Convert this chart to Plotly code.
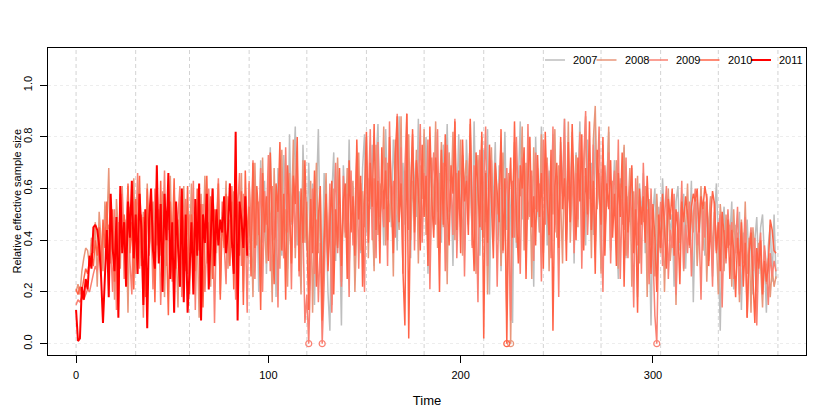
import plotly.graph_objects as go

# relative effective sample size, one value per day of year
start_2007 = 90
ess_2007 = [
    0.52, 0.31, 0.66, 0.44, 0.58, 0.20, 0.71, 0.39, 0.63, 0.27, 0.55, 0.76, 0.42, 0.60, 0.18, 0.68, 0.49, 0.34, 0.73, 0.57,
    0.29, 0.81, 0.46, 0.65, 0.84, 0.38, 0.59, 0.23, 0.77, 0.51, 0.36, 0.70, 0.44, 0.62, 0.15, 0.57, 0.83, 0.40, 0.28, 0.66,
    0.49, 0.20, 0.05, 0.58, 0.74, 0.32, 0.63, 0.45, 0.07, 0.69, 0.53, 0.38, 0.79, 0.47, 0.61, 0.26, 0.72, 0.55, 0.35, 0.68,
    0.81, 0.43, 0.64, 0.52, 0.77, 0.30, 0.70, 0.85, 0.48, 0.59, 0.38, 0.83, 0.56, 0.67, 0.45, 0.79, 0.62, 0.36, 0.88, 0.53,
    0.70, 0.46, 0.84, 0.58, 0.33, 0.76, 0.63, 0.49, 0.87, 0.41, 0.69, 0.55, 0.80, 0.27, 0.73, 0.60, 0.44, 0.82, 0.51, 0.66,
    0.39, 0.77, 0.57, 0.85, 0.48, 0.62, 0.30, 0.74, 0.53, 0.81, 0.45, 0.68, 0.36, 0.79, 0.58, 0.64, 0.42, 0.86, 0.50, 0.71,
    0.34, 0.60, 0.75, 0.47, 0.83, 0.19, 0.66, 0.55, 0.78, 0.40, 0.69, 0.28, 0.57, 0.82, 0.44, 0.63, 0.51, 0.08, 0.73, 0.37,
    0.61, 0.86, 0.48, 0.70, 0.32, 0.77, 0.56, 0.65, 0.22, 0.80, 0.52, 0.43, 0.84, 0.59, 0.71, 0.38, 0.67, 0.54, 0.81, 0.46,
    0.63, 0.35, 0.78, 0.57, 0.87, 0.44, 0.69, 0.50, 0.82, 0.31, 0.74, 0.60, 0.86, 0.47, 0.65, 0.38, 0.79, 0.56, 0.70, 0.42,
    0.84, 0.53, 0.66, 0.29, 0.77, 0.48, 0.61, 0.82, 0.37, 0.58, 0.71, 0.45, 0.25, 0.64, 0.52, 0.76, 0.33, 0.57, 0.47, 0.68,
    0.40, 0.55, 0.18, 0.62, 0.49, 0.66, 0.35, 0.58, 0.44, 0.07, 0.51, 0.60, 0.27, 0.53, 0.39, 0.64, 0.46, 0.31, 0.57, 0.42,
    0.50, 0.22, 0.55, 0.61, 0.36, 0.47, 0.58, 0.29, 0.52, 0.43, 0.63, 0.16, 0.49, 0.56, 0.38, 0.60, 0.45, 0.34, 0.53, 0.41,
    0.57, 0.26, 0.48, 0.62, 0.39, 0.05, 0.44, 0.53, 0.32, 0.50, 0.41, 0.55, 0.21, 0.46, 0.37, 0.51, 0.13, 0.43, 0.35, 0.48,
    0.30, 0.44, 0.19, 0.40, 0.49, 0.27, 0.45, 0.50, 0.33, 0.12, 0.38, 0.46, 0.24, 0.50, 0.25,
]

ess_2008 = [
    0.20, 0.23, 0.19, 0.28, 0.33, 0.37, 0.36, 0.30, 0.41, 0.35, 0.47, 0.22, 0.51, 0.39, 0.28, 0.55, 0.44, 0.68, 0.31, 0.49,
    0.17, 0.56, 0.42, 0.29, 0.61, 0.35, 0.48, 0.12, 0.53, 0.40, 0.64, 0.27, 0.46, 0.58, 0.33, 0.51, 0.20, 0.62, 0.38, 0.45,
    0.55, 0.26, 0.63, 0.41, 0.34, 0.59, 0.18, 0.50, 0.44, 0.65, 0.30, 0.52, 0.37, 0.14, 0.57, 0.46, 0.61, 0.28, 0.49, 0.36,
    0.62, 0.24, 0.53, 0.43, 0.10, 0.58, 0.39, 0.65, 0.31, 0.47, 0.22, 0.60, 0.45, 0.35, 0.56, 0.19, 0.51, 0.42, 0.63, 0.29,
    0.48, 0.37, 0.59, 0.25, 0.54, 0.41, 0.66, 0.20, 0.57, 0.33, 0.62, 0.47, 0.18, 0.70, 0.38, 0.55, 0.26, 0.72, 0.44, 0.31,
    0.64, 0.50, 0.16, 0.68, 0.41, 0.57, 0.29, 0.75, 0.36, 0.52, 0.22, 0.66, 0.47, 0.79, 0.33, 0.58, 0.43, 0.19, 0.71, 0.39,
    0.55, 0.27, 0.63, 0.12, 0.49, 0.70, 0.35, 0.58, 0.21, 0.44, 0.66, 0.31, 0.53, 0.15, 0.60, 0.38, 0.72, 0.46, 0.24, 0.57,
    0.41, 0.68, 0.30, 0.52, 0.63, 0.20, 0.47, 0.74, 0.36, 0.59, 0.45, 0.80, 0.33, 0.66, 0.51, 0.28, 0.77, 0.42, 0.62, 0.55,
    0.84, 0.38, 0.70, 0.47, 0.61, 0.26, 0.79, 0.53, 0.44, 0.88, 0.35, 0.67, 0.58, 0.81, 0.40, 0.63, 0.49, 0.75, 0.31, 0.69,
    0.56, 0.83, 0.42, 0.64, 0.29, 0.72, 0.50, 0.86, 0.37, 0.61, 0.78, 0.45, 0.68, 0.23, 0.74, 0.55, 0.82, 0.40, 0.66, 0.52,
    0.79, 0.34, 0.63, 0.71, 0.46, 0.85, 0.38, 0.60, 0.27, 0.73, 0.54, 0.80, 0.41, 0.67, 0.19, 0.58, 0.76, 0.44, 0.69, 0.50,
    0.62, 0.30, 0.74, 0.47, 0.11, 0.66, 0.00, 0.53, 0.78, 0.39, 0.64, 0.57, 0.84, 0.36, 0.70, 0.48, 0.61, 0.25, 0.76, 0.52,
    0.68, 0.43, 0.81, 0.35, 0.59, 0.72, 0.28, 0.64, 0.50, 0.83, 0.41, 0.69, 0.56, 0.31, 0.77, 0.47, 0.86, 0.39, 0.63, 0.54,
    0.73, 0.45, 0.82, 0.37, 0.60, 0.88, 0.49, 0.70, 0.33, 0.79, 0.92, 0.52, 0.66, 0.27, 0.75, 0.43, 0.58, 0.84, 0.36, 0.63,
    0.50, 0.71, 0.29, 0.62, 0.46, 0.77, 0.34, 0.55, 0.68, 0.22, 0.59, 0.42, 0.65, 0.31, 0.53, 0.47, 0.61, 0.18, 0.56, 0.38,
    0.49, 0.26, 0.58, 0.41, 0.35, 0.54, 0.20, 0.47, 0.60, 0.32, 0.44, 0.53, 0.15, 0.50, 0.39, 0.57, 0.28, 0.46, 0.62, 0.37,
    0.52, 0.43, 0.58, 0.30, 0.49, 0.61, 0.36, 0.55, 0.24, 0.47, 0.57, 0.33, 0.51, 0.40, 0.19, 0.54, 0.44, 0.28, 0.50, 0.37,
    0.46, 0.22, 0.52, 0.35, 0.43, 0.16, 0.48, 0.31, 0.55, 0.27, 0.41, 0.12, 0.45, 0.34, 0.20, 0.39, 0.30, 0.14, 0.36, 0.23,
    0.33, 0.18, 0.29, 0.22, 0.26,
]

ess_2009 = [
    0.15, 0.17, 0.16, 0.18, 0.17, 0.19, 0.21, 0.20, 0.24, 0.27, 0.30, 0.28, 0.36, 0.33, 0.42, 0.45, 0.44, 0.46, 0.38, 0.20,
    0.52, 0.13, 0.47, 0.36, 0.58, 0.25, 0.44, 0.61, 0.32, 0.19, 0.55, 0.40, 0.66, 0.29, 0.50, 0.10, 0.43, 0.57, 0.34, 0.48,
    0.21, 0.60, 0.38, 0.52, 0.15, 0.45, 0.67, 0.30, 0.54, 0.42, 0.24, 0.59, 0.35, 0.49, 0.61, 0.18, 0.44, 0.56, 0.27, 0.50,
    0.39, 0.63, 0.13, 0.47, 0.58, 0.32, 0.54, 0.20, 0.43, 0.60, 0.36, 0.51, 0.08, 0.46, 0.64, 0.29, 0.55, 0.41, 0.23, 0.57,
    0.35, 0.61, 0.44, 0.17, 0.52, 0.66, 0.30, 0.58, 0.47, 0.12, 0.63, 0.38, 0.71, 0.25, 0.55, 0.42, 0.68, 0.20, 0.59, 0.46,
    0.73, 0.28, 0.61, 0.40, 0.55, 0.14, 0.67, 0.49, 0.33, 0.76, 0.43, 0.58, 0.21, 0.64, 0.37, 0.70, 0.26, 0.52, 0.45, 0.08,
    0.19, 0.00, 0.34, 0.60, 0.27, 0.48, 0.16, 0.39, 0.00, 0.23, 0.55, 0.31, 0.62, 0.12, 0.46, 0.70, 0.35, 0.53, 0.22, 0.65,
    0.43, 0.58, 0.18, 0.67, 0.38, 0.51, 0.74, 0.29, 0.62, 0.47, 0.20, 0.71, 0.55, 0.83, 0.40, 0.64, 0.33, 0.78, 0.49, 0.59,
    0.45, 0.72, 0.30, 0.86, 0.54, 0.63, 0.41, 0.89, 0.50, 0.76, 0.27, 0.68, 0.89, 0.44, 0.61, 0.81, 0.36, 0.70, 0.57, 0.85,
    0.39, 0.66, 0.53, 0.79, 0.21, 0.62, 0.74, 0.46, 0.83, 0.35, 0.58, 0.70, 0.28, 0.77, 0.51, 0.64, 0.42, 0.87, 0.33, 0.60,
    0.48, 0.73, 0.26, 0.65, 0.56, 0.81, 0.37, 0.69, 0.52, 0.16, 0.75, 0.44, 0.62, 0.84, 0.30, 0.57, 0.71, 0.40, 0.66, 0.22,
    0.59, 0.78, 0.35, 0.52, 0.68, 0.45, 0.09, 0.63, 0.41, 0.80, 0.55, 0.27, 0.72, 0.60, 0.38, 0.85, 0.49, 0.67, 0.32, 0.74,
    0.51, 0.62, 0.24, 0.79, 0.46, 0.70, 0.57, 0.33, 0.84, 0.43, 0.65, 0.18, 0.73, 0.58, 0.87, 0.40, 0.61, 0.52, 0.76, 0.35,
    0.66, 0.48, 0.81, 0.29, 0.71, 0.90, 0.42, 0.63, 0.55, 0.77, 0.37, 0.60, 0.84, 0.46, 0.20, 0.69, 0.53, 0.74, 0.31, 0.58,
    0.67, 0.40, 0.79, 0.25, 0.56, 0.44, 0.72, 0.33, 0.61, 0.49, 0.14, 0.64, 0.38, 0.57, 0.27, 0.70, 0.45, 0.52, 0.23, 0.60,
    0.36, 0.11, 0.00, 0.42, 0.55, 0.30, 0.48, 0.61, 0.25, 0.44, 0.37, 0.58, 0.19, 0.51, 0.40, 0.63, 0.29, 0.46, 0.35, 0.55,
    0.26, 0.49, 0.60, 0.38, 0.45, 0.17, 0.53, 0.41, 0.58, 0.32, 0.47, 0.22, 0.55, 0.36, 0.43, 0.50, 0.14, 0.44, 0.31, 0.52,
    0.38, 0.47, 0.25, 0.42, 0.53, 0.19, 0.40, 0.33, 0.49, 0.10, 0.36, 0.45, 0.28, 0.41, 0.07, 0.34, 0.43, 0.21, 0.38, 0.30,
    0.15, 0.35, 0.26, 0.32, 0.28,
]

ess_2010 = [
    0.21, 0.19, 0.22, 0.20, 0.25, 0.29, 0.27, 0.32, 0.35, 0.30, 0.40, 0.34, 0.45, 0.26, 0.48, 0.37, 0.55, 0.31, 0.46, 0.52,
    0.24, 0.44, 0.13, 0.58, 0.39, 0.50, 0.28, 0.62, 0.35, 0.47, 0.21, 0.56, 0.41, 0.65, 0.30, 0.49, 0.18, 0.60, 0.37, 0.53,
    0.45, 0.16, 0.57, 0.33, 0.63, 0.26, 0.51, 0.40, 0.11, 0.55, 0.38, 0.64, 0.29, 0.48, 0.22, 0.59, 0.43, 0.35, 0.61, 0.19,
    0.50, 0.42, 0.28, 0.60, 0.36, 0.54, 0.14, 0.47, 0.65, 0.32, 0.57, 0.25, 0.52, 0.40, 0.62, 0.17, 0.49, 0.37, 0.58, 0.44,
    0.30, 0.55, 0.21, 0.63, 0.46, 0.34, 0.59, 0.15, 0.67, 0.41, 0.53, 0.26, 0.70, 0.37, 0.61, 0.48, 0.13, 0.66, 0.43, 0.57,
    0.32, 0.74, 0.45, 0.23, 0.62, 0.51, 0.78, 0.36, 0.58, 0.17, 0.69, 0.47, 0.31, 0.65, 0.54, 0.80, 0.28, 0.60, 0.39, 0.71,
    0.44, 0.13, 0.56, 0.35, 0.67, 0.22, 0.49, 0.61, 0.09, 0.40, 0.58, 0.28, 0.46, 0.63, 0.19, 0.52, 0.37, 0.68, 0.30, 0.55,
    0.62, 0.25, 0.71, 0.43, 0.57, 0.34, 0.79, 0.48, 0.65, 0.22, 0.58, 0.82, 0.39, 0.70, 0.53, 0.85, 0.44, 0.63, 0.31, 0.76,
    0.52, 0.67, 0.40, 0.80, 0.58, 0.35, 0.73, 0.88, 0.47, 0.62, 0.28, 0.07, 0.89, 0.02, 0.55, 0.83, 0.43, 0.71, 0.60, 0.36,
    0.77, 0.49, 0.65, 0.30, 0.84, 0.56, 0.41, 0.72, 0.62, 0.20, 0.75, 0.46, 0.81, 0.53, 0.38, 0.69, 0.58, 0.86, 0.44, 0.67,
    0.35, 0.79, 0.55, 0.63, 0.42, 0.87, 0.50, 0.28, 0.74, 0.60, 0.45, 0.82, 0.02, 0.66, 0.39, 0.77, 0.53, 0.33, 0.70, 0.58,
    0.47, 0.83, 0.36, 0.64, 0.00, 0.55, 0.72, 0.41, 0.86, 0.50, 0.31, 0.69, 0.60, 0.76, 0.25, 0.63, 0.80, 0.45, 0.57, 0.38,
    0.73, 0.49, 0.66, 0.29, 0.82, 0.56, 0.42, 0.75, 0.05, 0.61, 0.70, 0.37, 0.80, 0.52, 0.64, 0.32, 0.78, 0.47, 0.85, 0.58,
    0.40, 0.72, 0.55, 0.81, 0.36, 0.68, 0.50, 0.86, 0.44, 0.63, 0.27, 0.75, 0.57, 0.46, 0.80, 0.34, 0.62, 0.52, 0.71, 0.41,
    0.58, 0.30, 0.66, 0.49, 0.74, 0.22, 0.61, 0.43, 0.55, 0.69, 0.35, 0.52, 0.12, 0.60, 0.46, 0.57, 0.39, 0.65, 0.48, 0.27,
    0.54, 0.41, 0.20, 0.50, 0.37, 0.58, 0.45, 0.29, 0.56, 0.48, 0.60, 0.34, 0.52, 0.44, 0.23, 0.55, 0.47, 0.57, 0.50, 0.38,
    0.53, 0.58, 0.55, 0.60, 0.43, 0.57, 0.52, 0.61, 0.56, 0.30, 0.49, 0.59, 0.54, 0.35, 0.47, 0.28, 0.51, 0.42, 0.33, 0.48,
    0.25, 0.44, 0.36, 0.18, 0.41, 0.30, 0.47, 0.22, 0.39, 0.10, 0.35, 0.43, 0.26, 0.08, 0.37, 0.29, 0.40, 0.19, 0.32, 0.24,
    0.30, 0.48, 0.44, 0.36, 0.35,
]

ess_2011 = [
    0.13, 0.01, 0.02, 0.22, 0.17, 0.25, 0.21, 0.34, 0.29, 0.45, 0.46, 0.44, 0.38, 0.26, 0.08, 0.30, 0.44, 0.18, 0.58, 0.37,
    0.28, 0.49, 0.10, 0.61, 0.35, 0.47, 0.22, 0.55, 0.41, 0.63, 0.33, 0.50, 0.27, 0.58, 0.44, 0.15, 0.52, 0.06, 0.48, 0.60,
    0.36, 0.29, 0.69, 0.31, 0.54, 0.20, 0.58, 0.40, 0.66, 0.25, 0.47, 0.12, 0.55, 0.38, 0.22, 0.60, 0.16, 0.50, 0.12, 0.28,
    0.47, 0.19, 0.56, 0.34, 0.62, 0.09, 0.50, 0.39, 0.58, 0.21, 0.45, 0.60, 0.30, 0.52, 0.38, 0.48, 0.43, 0.57, 0.35, 0.44,
    0.62, 0.40, 0.27, 0.82, 0.09, 0.55, 0.48, 0.37, 0.57, 0.34,
]

years = ["2007", "2008", "2009", "2010", "2011"]
series = [ess_2007, ess_2008, ess_2009, ess_2010, ess_2011]
starts = [start_2007, 0, 0, 0, 0]
colors = ["#BEBEBE", "#E9967A", "#FA8072", "#FF6347", "#FF0000"]
widths = [1.5, 1.5, 1.5, 1.5, 2]

month_starts = [0, 31, 59, 90, 120, 151, 181, 212, 243, 273, 304, 334, 365]

fig = go.Figure()

for yr, vals, s, col, w in zip(years, series, starts, colors, widths):
    days = list(range(s, s + len(vals)))
    fig.add_trace(go.Scatter(x=days, y=vals, mode="lines", name=yr, showlegend=False,
                             line=dict(color=col, width=w)))
    # zero values marked with open circles
    zx = [d for d, v in zip(days, vals) if v == 0]
    zy = [v for v in vals if v == 0]
    if zx:
        fig.add_trace(go.Scatter(x=zx, y=zy, mode="markers", showlegend=False,
                                 marker=dict(symbol="circle-open", size=6,
                                             color=col, line=dict(width=1.2))))

for m in month_starts:
    fig.add_vline(x=m, line=dict(color="#D3D3D3", width=1, dash="4px,3px"), layer="below")

font = dict(family="Liberation Sans, Arial, sans-serif", size=11, color="black")

# page body keeps an 8px margin, so the figure is 8px smaller than the window
W, H = 822, 407
ml, mr, mt, mb = 40, 24, 40, 60
pw, ph = W - ml - mr, H - mt - mb

# legend drawn R-style: short line sample followed by the year, in one row
leg_x0, leg_step, leg_y = 537, 51.5, 52
for i, (yr, col, w) in enumerate(zip(years, colors, widths)):
    x0 = leg_x0 + i * leg_step
    yp = (H - mb - leg_y) / ph
    fig.add_shape(type="line", xref="paper", yref="paper",
                  x0=(x0 - ml) / pw, x1=(x0 + 20 - ml) / pw, y0=yp, y1=yp,
                  line=dict(color=col, width=w))
    fig.add_annotation(xref="paper", yref="paper", x=(x0 + 26 - ml) / pw, y=yp,
                       text=yr, showarrow=False, xanchor="left", yanchor="middle",
                       font=font)

# y axis title placed close to the page edge, as in base R graphics
fig.add_annotation(xref="paper", yref="paper", x=(8 - ml) / pw, y=0.5,
                   text="Relative effective sample size", textangle=-90,
                   showarrow=False, xanchor="center", yanchor="middle", font=font)

fig.update_layout(
    width=W, height=H,
    margin=dict(l=ml, r=mr, t=mt, b=mb),
    paper_bgcolor="white", plot_bgcolor="white",
    font=font,
    xaxis=dict(range=[-14.6, 379.6], tickvals=[0, 100, 200, 300],
               ticks="outside", ticklen=7, tickcolor="black", ticklabelstandoff=3,
               showline=True, linecolor="black", linewidth=1, mirror=True,
               showgrid=False, zeroline=False, automargin=False,
               title=dict(text="Time")),
    yaxis=dict(range=[-0.044, 1.144], tickvals=[0, 0.2, 0.4, 0.6, 0.8, 1.0],
               tickformat=".1f", tickangle=-90,
               ticks="outside", ticklen=7, tickcolor="black", ticklabelstandoff=4,
               showline=True, linecolor="black", linewidth=1, mirror=True,
               showgrid=True, gridcolor="#EDEDED", griddash="dot", gridwidth=1,
               zeroline=False, automargin=False),
)

fig.write_html("out.html")
